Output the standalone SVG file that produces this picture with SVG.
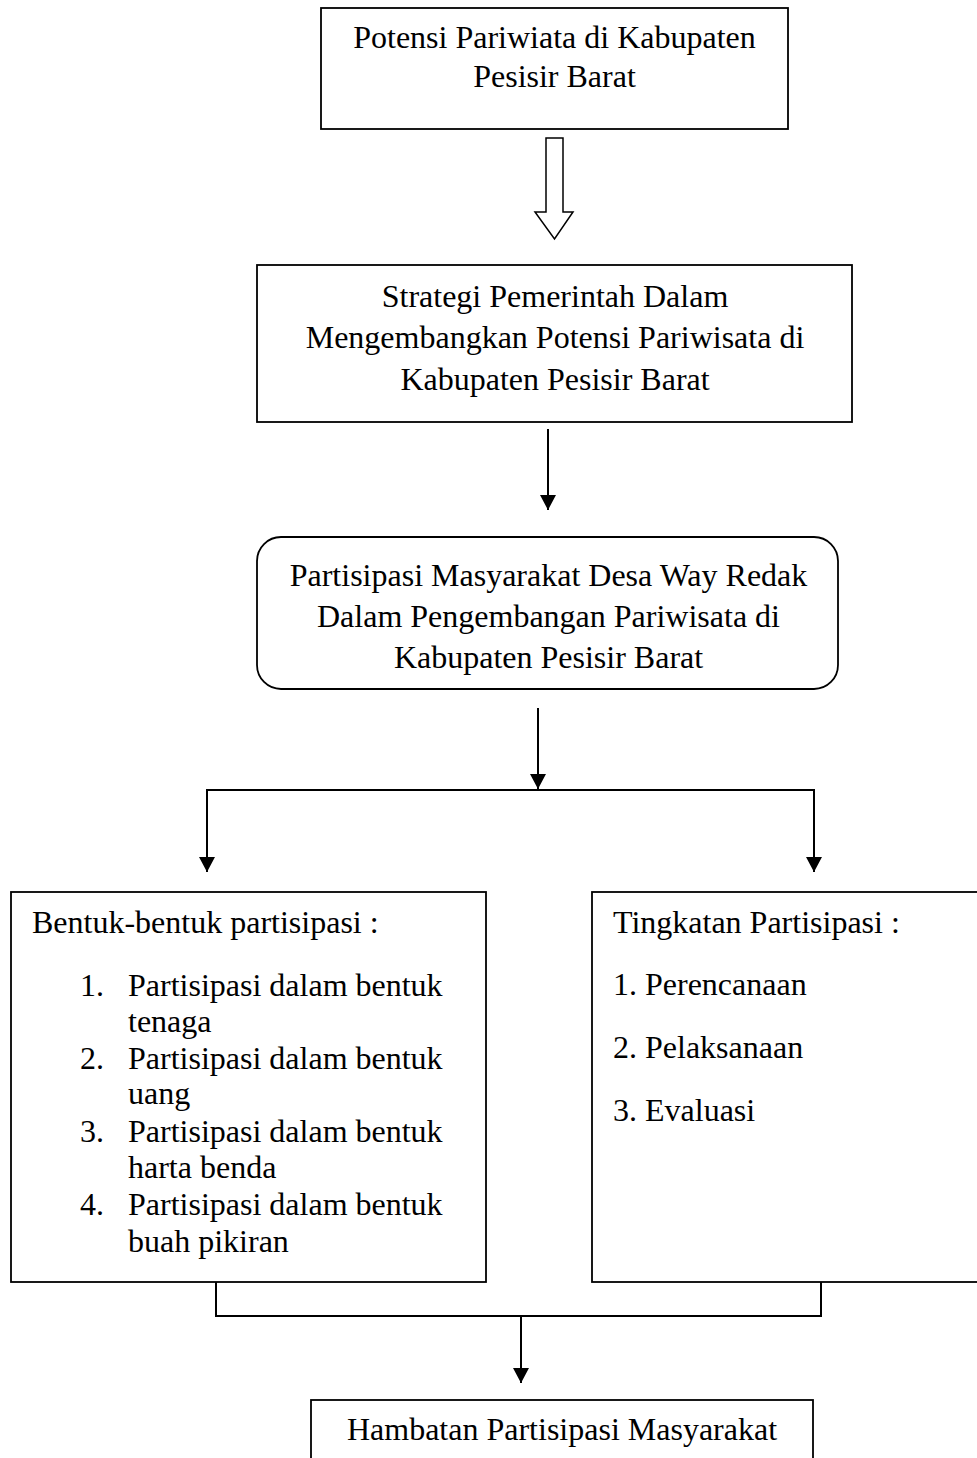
<svg xmlns="http://www.w3.org/2000/svg" width="977" height="1458" viewBox="0 0 977 1458">
<style>
.box{fill:#fff;stroke:#000;stroke-width:1.8}
.t{font-family:"Liberation Serif","Times New Roman",serif;font-size:32px;fill:#000}
.c{text-anchor:middle}
.con{fill:none;stroke:#000;stroke-width:2}
</style>
<defs>
<marker id="ah" markerUnits="userSpaceOnUse" markerWidth="16" markerHeight="16" viewBox="0 0 16 16" refX="15" refY="8" orient="auto">
<path d="M0,0 L15,8 L0,16 Z" fill="#000"/>
</marker>
</defs>
<rect width="977" height="1458" fill="#fff"/>
<g id="connectors">
<path class="con" d="M546,138 H563 V212 H573 L554.5,239 L535,212 H546 Z" style="stroke-width:1.5"/>
<line class="con" x1="548" y1="429" x2="548" y2="510" marker-end="url(#ah)"/>
<line class="con" x1="538" y1="708" x2="538" y2="789" marker-end="url(#ah)"/>
<polyline class="con" points="207,872 207,790 814,790 814,872" marker-end="url(#ah)"/>
<line class="con" x1="207" y1="790" x2="207" y2="872" marker-end="url(#ah)"/>
<polyline class="con" points="216,1282 216,1316 821,1316 821,1282"/>
<line class="con" x1="521" y1="1316" x2="521" y2="1383" marker-end="url(#ah)"/>
</g>
<g id="potensi">
<rect class="box" x="321" y="8" width="467" height="121"/>
<text class="t c" x="554.5" y="48">Potensi Pariwiata di Kabupaten</text>
<text class="t c" x="554.5" y="87">Pesisir Barat</text>
</g>
<g id="strategi">
<rect class="box" x="257" y="265" width="595" height="157"/>
<text class="t c" x="555" y="307">Strategi Pemerintah Dalam</text>
<text class="t c" x="555" y="348">Mengembangkan Potensi Pariwisata di</text>
<text class="t c" x="555" y="390">Kabupaten Pesisir Barat</text>
</g>
<g id="partisipasi">
<rect class="box" x="257" y="537" width="581" height="152" rx="24" ry="24"/>
<text class="t c" x="548.5" y="586">Partisipasi Masyarakat Desa Way Redak</text>
<text class="t c" x="548.5" y="627">Dalam Pengembangan Pariwisata di</text>
<text class="t c" x="548.5" y="668">Kabupaten Pesisir Barat</text>
</g>
<g id="bentuk">
<rect class="box" x="11" y="892" width="475" height="390"/>
<text class="t" x="32" y="933">Bentuk-bentuk partisipasi :</text>
<text class="t" x="80" y="996">1.</text>
<text class="t" x="128" y="996">Partisipasi dalam bentuk</text>
<text class="t" x="128" y="1032">tenaga</text>
<text class="t" x="80" y="1069">2.</text>
<text class="t" x="128" y="1069">Partisipasi dalam bentuk</text>
<text class="t" x="128" y="1104">uang</text>
<text class="t" x="80" y="1142">3.</text>
<text class="t" x="128" y="1142">Partisipasi dalam bentuk</text>
<text class="t" x="128" y="1178">harta benda</text>
<text class="t" x="80" y="1215">4.</text>
<text class="t" x="128" y="1215">Partisipasi dalam bentuk</text>
<text class="t" x="128" y="1252">buah pikiran</text>
</g>
<g id="tingkatan">
<rect class="box" x="592" y="892" width="400" height="390"/>
<text class="t" x="613" y="933">Tingkatan Partisipasi :</text>
<text class="t" x="613" y="995">1. Perencanaan</text>
<text class="t" x="613" y="1058">2. Pelaksanaan</text>
<text class="t" x="613" y="1121">3. Evaluasi</text>
</g>
<g id="hambatan">
<rect class="box" x="311" y="1400" width="502" height="80"/>
<text class="t c" x="562" y="1440">Hambatan Partisipasi Masyarakat</text>
</g>
</svg>
